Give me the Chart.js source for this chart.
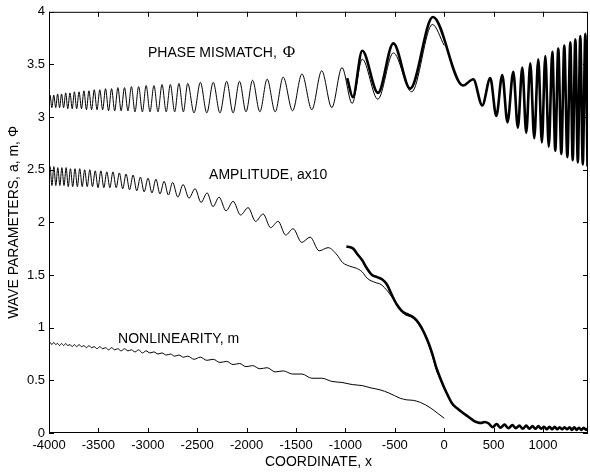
<!DOCTYPE html>
<html>
<head>
<meta charset="utf-8">
<script src="https://cdn.jsdelivr.net/npm/chart.js@4.4.1/dist/chart.umd.min.js"></script>
<style>
  html, body { margin: 0; padding: 0; background: #fff; }
  canvas { display: block; }
</style>
</head>
<body>
<canvas id="waveChart" width="590" height="475"></canvas>
<script>
// tick values
var xTicks = [-4000, -3500, -3000, -2500, -2000, -1500, -1000, -500, 0, 500, 1000];
var yTicks = [0, 0.5, 1, 1.5, 2, 2.5, 3, 3.5, 4];

// phase mismatch, thin curve (peaks / troughs)
var phaseThin = [
  [-4000,3.15],[-3990,3.21],[-3971,3.09],[-3952,3.21],[-3932,3.09],[-3913,3.22],[-3893,3.09],[-3873,3.22],
  [-3852,3.09],[-3831,3.23],[-3810,3.08],[-3788,3.23],[-3765,3.08],[-3743,3.24],[-3720,3.08],[-3696,3.24],
  [-3671,3.08],[-3647,3.25],[-3621,3.07],[-3596,3.25],[-3569,3.07],[-3542,3.26],[-3514,3.07],[-3486,3.26],
  [-3457,3.07],[-3428,3.27],[-3397,3.06],[-3367,3.27],[-3335,3.06],[-3303,3.28],[-3270,3.06],[-3236,3.28],
  [-3201,3.06],[-3166,3.29],[-3130,3.05],[-3093,3.29],[-3055,3.05],[-3017,3.30],[-2978,3.05],[-2938,3.30],
  [-2897,3.05],[-2856,3.31],[-2814,3.05],[-2772,3.31],[-2728,3.05],[-2685,3.32],[-2640,3.05],[-2596,3.32],
  [-2532,3.04],[-2468,3.33],[-2403,3.04],[-2338,3.33],[-2270,3.04],[-2202,3.34],[-2137,3.04],[-2072,3.34],
  [-2006,3.05],[-1940,3.35],[-1866,3.05],[-1792,3.36],[-1711,3.05],[-1630,3.38],[-1535,3.06],[-1440,3.41],
  [-1340,3.07],[-1240,3.44],[-1138,3.09],[-1035,3.47],[-932,3.13],[-830,3.55],[-672,3.17],[-515,3.61],
  [-330,3.24],[-120,3.88],[0,3.68]
];

// phase mismatch, thick curve
var phaseThick = [
  [-982,3.37],[-925,3.19],[-830,3.63],[-670,3.23],[-515,3.70],[-345,3.27],[-115,3.95],[190,3.30],
  [294,3.36],[385,3.11],[466,3.37],[527,3.01],[587,3.40],[640,2.95],[699,3.43],[745,2.90],
  [790,3.47],[830,2.85],[871,3.51],[911,2.80],[952,3.55],[988,2.76],[1023,3.58],[1058,2.72],
  [1094,3.62],[1124,2.68],[1154,3.65],[1185,2.65],[1215,3.68],[1246,2.62],[1276,3.71],[1300,2.59],
  [1327,3.74],[1352,2.57],[1377,3.77],[1402,2.55],[1428,3.79],[1450,2.53]
];

// amplitude x10, thin curve
var ampThin = [
  [-4000,2.44],[-3990,2.53],[-3970,2.35],[-3951,2.53],[-3931,2.35],[-3911,2.52],[-3890,2.35],[-3870,2.52],
  [-3848,2.35],[-3827,2.52],[-3805,2.34],[-3783,2.51],[-3760,2.34],[-3737,2.51],[-3713,2.34],[-3689,2.51],
  [-3664,2.34],[-3639,2.50],[-3613,2.34],[-3587,2.50],[-3560,2.34],[-3532,2.49],[-3504,2.33],[-3475,2.49],
  [-3445,2.33],[-3415,2.48],[-3384,2.33],[-3353,2.48],[-3320,2.33],[-3288,2.47],[-3254,2.32],[-3220,2.46],
  [-3185,2.31],[-3149,2.45],[-3112,2.30],[-3075,2.43],[-3037,2.29],[-2998,2.42],[-2958,2.28],[-2918,2.41],
  [-2877,2.27],[-2835,2.39],[-2792,2.26],[-2749,2.38],[-2696,2.24],[-2643,2.36],[-2583,2.23],[-2522,2.32],
  [-2461,2.19],[-2400,2.28],[-2340,2.15],[-2279,2.24],[-2208,2.11],[-2137,2.20],[-2061,2.07],[-1985,2.14],
  [-1909,2.01],[-1833,2.08],[-1757,1.95],[-1681,2.01],[-1605,1.88],[-1529,1.94],[-1443,1.81],[-1357,1.86],
  [-1266,1.73],[-1175,1.76],[-1084,1.69],[-1030,1.62],[-960,1.585],[-890,1.565],[-830,1.53],[-780,1.47],
  [-700,1.43],[-640,1.41],[-567,1.34],[-500,1.25],[-440,1.16],[-390,1.12],[-330,1.10],[-280,1.06],
  [-230,0.99],[-170,0.87],[-120,0.73],[-80,0.60],[-40,0.51],[0,0.42]
];

// amplitude x10, thick curve
var ampThick = [
  [-990,1.77],[-950,1.765],[-920,1.75],[-880,1.70],[-830,1.64],[-780,1.56],[-730,1.50],[-680,1.48],
  [-630,1.46],[-580,1.41],[-530,1.31],[-480,1.22],[-430,1.16],[-380,1.13],[-330,1.11],[-280,1.07],
  [-230,1.00],[-170,0.88],[-120,0.75],[-80,0.62],[-40,0.52],[0,0.43],[40,0.35],[80,0.28],
  [130,0.235],[190,0.19],[250,0.15],[300,0.115],[340,0.10],[370,0.095],[410,0.105],[450,0.09],
  [490,0.055],[530,0.085],[570,0.05],[610,0.08],[650,0.045],[690,0.075],[725,0.045],[760,0.07],
  [795,0.04],[830,0.07],[862,0.04],[893,0.065],[923,0.04],[953,0.065],[982,0.04],[1010,0.06],
  [1038,0.035],[1065,0.06],[1092,0.035],[1118,0.06],[1143,0.035],[1168,0.055],[1193,0.035],[1218,0.055],
  [1243,0.035],[1268,0.055],[1292,0.03],[1316,0.055],[1340,0.03],[1364,0.05],[1388,0.03],[1412,0.05],
  [1436,0.03],[1450,0.04]
];

// nonlinearity m
var nonlin = [
  [-4000,0.85],[-3990,0.86],[-3971,0.84],[-3952,0.86],[-3932,0.84],[-3913,0.85],[-3893,0.83],[-3873,0.85],
  [-3852,0.83],[-3831,0.85],[-3810,0.83],[-3788,0.84],[-3765,0.82],[-3743,0.84],[-3720,0.82],[-3696,0.84],
  [-3671,0.82],[-3647,0.83],[-3621,0.81],[-3596,0.83],[-3569,0.81],[-3542,0.82],[-3514,0.80],[-3486,0.82],
  [-3457,0.80],[-3428,0.81],[-3397,0.79],[-3367,0.81],[-3335,0.79],[-3303,0.80],[-3270,0.78],[-3236,0.80],
  [-3201,0.78],[-3166,0.79],[-3130,0.77],[-3093,0.79],[-3055,0.76],[-3017,0.78],[-2978,0.76],[-2938,0.77],
  [-2897,0.75],[-2856,0.76],[-2814,0.74],[-2772,0.75],[-2728,0.73],[-2685,0.74],[-2640,0.72],[-2596,0.73],
  [-2532,0.70],[-2468,0.72],[-2403,0.69],[-2338,0.70],[-2270,0.67],[-2202,0.68],[-2137,0.65],[-2072,0.66],
  [-2006,0.63],[-1940,0.64],[-1866,0.61],[-1792,0.62],[-1711,0.58],[-1630,0.59],[-1535,0.56],[-1440,0.56],
  [-1340,0.52],[-1240,0.52],[-1138,0.49],[-1035,0.48],[-932,0.46],[-830,0.45],[-750,0.43],[-650,0.41],
  [-560,0.38],[-446,0.33],[-380,0.315],[-314,0.31],[-240,0.29],[-142,0.24],[-70,0.19],[0,0.14]
];

// text labels placed in data coordinates
var curveLabels = [
  { text: 'PHASE MISMATCH, ', symbol: '\u03A6', x: -2998, y: 3.61 },
  { text: 'AMPLITUDE, ax10', x: -2380, y: 2.445 },
  { text: 'NONLINEARITY, m', x: -3301, y: 0.89 }
];

function toPoints(pairs) {
  return pairs.map(function (p) { return { x: p[0], y: p[1] }; });
}

var sansFont = '"Liberation Sans", Arial, Helvetica, sans-serif';

// box around the plot plus inward ticks on all four sides, and the curve labels
var frameAndLabels = {
  id: 'frameAndLabels',
  afterDatasetsDraw: function (chart) {
    var ctx = chart.ctx;
    var a = chart.chartArea;
    var xs = chart.scales.x, ys = chart.scales.y;
    var len = 5;
    ctx.save();
    ctx.strokeStyle = '#000';
    ctx.lineWidth = 1;
    ctx.strokeRect(a.left + 0.5, a.top + 0.5, a.right - a.left - 1, a.bottom - a.top - 1);
    ctx.beginPath();
    xTicks.forEach(function (v) {
      var px = Math.round(xs.getPixelForValue(v)) + 0.5;
      ctx.moveTo(px, a.bottom); ctx.lineTo(px, a.bottom - len);
      ctx.moveTo(px, a.top); ctx.lineTo(px, a.top + len);
    });
    yTicks.forEach(function (v) {
      var py = Math.round(ys.getPixelForValue(v)) + 0.5;
      ctx.moveTo(a.left, py); ctx.lineTo(a.left + len, py);
      ctx.moveTo(a.right, py); ctx.lineTo(a.right - len, py);
    });
    ctx.stroke();

    ctx.fillStyle = '#000';
    ctx.textBaseline = 'middle';
    ctx.textAlign = 'left';
    curveLabels.forEach(function (l) {
      var px = xs.getPixelForValue(l.x);
      var py = ys.getPixelForValue(l.y);
      ctx.font = '14px ' + sansFont;
      ctx.fillText(l.text, px, py);
      if (l.symbol) {
        var w = ctx.measureText(l.text).width;
        ctx.font = '17px "Liberation Serif", "DejaVu Serif", serif';
        ctx.fillText(l.symbol, px + w + 2, py);
      }
    });
    ctx.restore();
  }
};

document.addEventListener('DOMContentLoaded', function () {
    var waveCtx = document.getElementById('waveChart').getContext('2d');
    new Chart(waveCtx, {
        type: 'scatter',
        data: {
            datasets: [
                { label: 'phase thin', data: toPoints(phaseThin), borderWidth: 1 },
                { label: 'phase thick', data: toPoints(phaseThick), borderWidth: 2.6 },
                { label: 'amplitude thin', data: toPoints(ampThin), borderWidth: 1 },
                { label: 'amplitude thick', data: toPoints(ampThick), borderWidth: 2.6 },
                { label: 'nonlinearity', data: toPoints(nonlin), borderWidth: 1 }
            ]
        },
        options: {
            responsive: false,
            animation: false,
            events: [],
            devicePixelRatio: 1,
            layout: {
                padding: { top: 11, right: 2, left: 0, bottom: 0 }
            },
            elements: {
                line: { borderColor: '#000', cubicInterpolationMode: 'monotone', fill: false },
                point: { radius: 0, hoverRadius: 0 }
            },
            datasets: {
                scatter: { showLine: true, borderColor: '#000', pointRadius: 0 }
            },
            scales: {
                x: {
                    type: 'linear',
                    min: -4000,
                    max: 1455,
                    grid: { display: false, drawTicks: false },
                    border: { display: false },
                    afterBuildTicks: function (scale) {
                        scale.ticks = xTicks.map(function (v) { return { value: v }; });
                    },
                    afterFit: function (scale) { scale.height = 42; },
                    ticks: {
                        autoSkip: false,
                        maxRotation: 0,
                        padding: 5,
                        color: '#000',
                        font: { family: sansFont, size: 13 },
                        callback: function (v) { return String(v); }
                    },
                    title: {
                        display: true,
                        text: 'COORDINATE, x',
                        color: '#000',
                        font: { family: sansFont, size: 14 },
                        padding: { top: 0, bottom: 4 }
                    }
                },
                y: {
                    type: 'linear',
                    min: 0,
                    max: 4,
                    grid: { display: false, drawTicks: false },
                    border: { display: false },
                    afterBuildTicks: function (scale) {
                        scale.ticks = yTicks.map(function (v) { return { value: v }; });
                    },
                    afterFit: function (scale) { scale.width = 49; },
                    ticks: {
                        padding: 4,
                        color: '#000',
                        font: { family: sansFont, size: 13 },
                        callback: function (v) { return String(v); }
                    },
                    title: {
                        display: true,
                        text: 'WAVE PARAMETERS, a, m, \u03A6',
                        color: '#000',
                        font: { family: sansFont, size: 14 },
                        padding: { top: 6, bottom: 0 }
                    }
                }
            },
            plugins: {
                legend: { display: false },
                tooltip: { enabled: false }
            }
        },
        plugins: [frameAndLabels]
    });
});
</script>
</body>
</html>
